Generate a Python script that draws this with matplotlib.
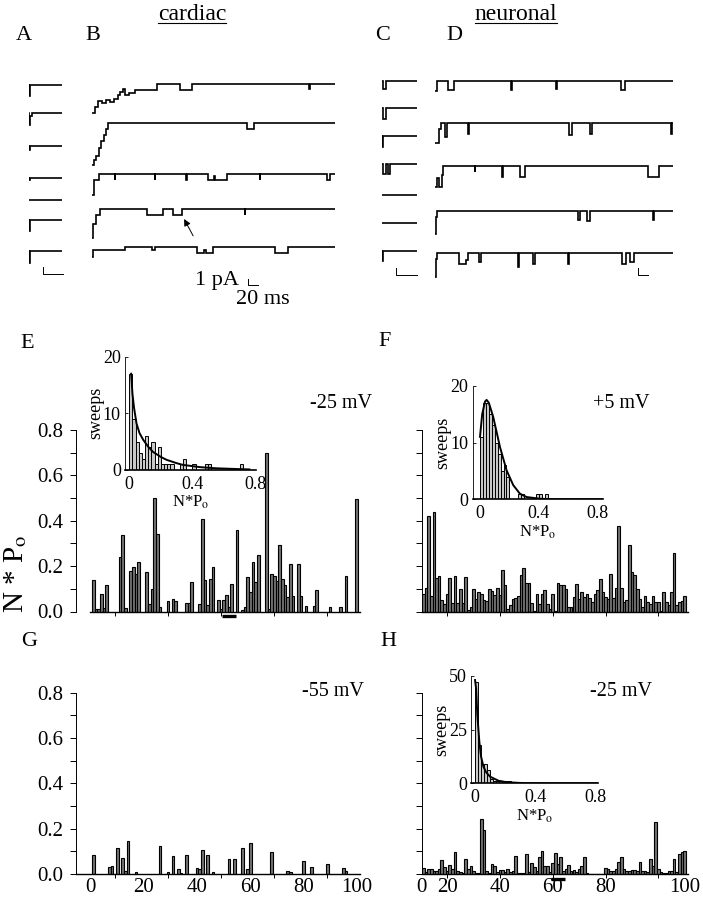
import matplotlib
matplotlib.use('Agg')
import matplotlib.pyplot as plt
from matplotlib.lines import Line2D
import numpy as np

plt.rcParams['font.family'] = ['Liberation Serif', 'DejaVu Serif']
plt.rcParams['mathtext.fontset'] = 'stix'

W, H = 703, 899

# ---------------- data ----------------
# N*Po per sweep (E and G: only non-empty sweeps listed)
e_sweeps = [1, 2, 3, 4, 5, 6, 11, 12, 13, 15, 16, 17, 18, 21, 22, 23, 24, 25, 26, 29, 31, 32,
            36, 37, 38, 41, 42, 43, 44, 45, 46, 48, 49, 50, 51, 52, 53, 55, 57, 58, 59, 60,
            61, 62, 63, 66, 67, 68, 69, 70, 71, 72, 73, 74, 75, 76, 78, 79, 81, 84, 85, 90,
            94, 96, 100]
e_npo = [0.14, 0.01, 0.01, 0.076, 0.015, 0.118, 0.24, 0.335, 0.015, 0.18, 0.195, 0.165, 0.22,
         0.175, 0.035, 0.10, 0.50, 0.34, 0.02, 0.047, 0.056, 0.045, 0.038, 0.036, 0.13, 0.034,
         0.407, 0.14, 0.03, 0.143, 0.196, 0.052, 0.012, 0.052, 0.072, 0.02, 0.122, 0.36, 0.007,
         0.022, 0.15, 0.087, 0.216, 0.128, 0.25, 0.70, 0.012, 0.165, 0.155, 0.135, 0.294, 0.144,
         0.118, 0.066, 0.209, 0.07, 0.209, 0.07, 0.026, 0.026, 0.096, 0.022, 0.022, 0.155, 0.495]

g_sweeps = [1, 7, 8, 10, 12, 13, 14, 17, 26, 29, 31, 33, 34, 36, 40, 41, 42, 44, 46, 52, 54,
            57, 59, 60, 68, 74, 75, 80, 83, 89, 95, 96]
g_npo = [0.085, 0.03, 0.034, 0.115, 0.07, 0.012, 0.147, 0.009, 0.122, 0.009, 0.08, 0.022,
         0.004, 0.085, 0.025, 0.022, 0.104, 0.084, 0.009, 0.066, 0.066, 0.116, 0.022, 0.137,
         0.095, 0.012, 0.009, 0.059, 0.029, 0.046, 0.028, 0.012]

f_npo = [0.075, 0.105, 0.42, 0.07, 0.44, 0.148, 0.158, 0.05, 0.034, 0.075,
         0.148, 0.037, 0.158, 0.037, 0.098, 0.037, 0.153, 0.005, 0.022, 0.10,
         0.056, 0.086, 0.075, 0.05, 0.046, 0.10, 0.09, 0.071, 0.105, 0.071,
         0.182, 0.116, 0.012, 0.027, 0.056, 0.06, 0.067, 0.163, 0.193, 0.126,
         0.126, 0.037, 0.004, 0.078, 0.031, 0.078, 0.093, 0.034, 0.012, 0.078,
         0.004, 0.127, 0.118, 0.116, 0.10, 0.019, 0.019, 0.064, 0.123, 0.056,
         0.086, 0.064, 0.078, 0.06, 0.041, 0.075, 0.096, 0.145, 0.086, 0.064,
         0.056, 0.167, 0.06, 0.105, 0.378, 0.105, 0.044, 0.052, 0.293, 0.175,
         0.163, 0.10, 0.056, 0.019, 0.067, 0.041, 0.034, 0.067, 0.041, 0.041,
         0.004, 0.086, 0.041, 0.027, 0.086, 0.256, 0.03, 0.041, 0.046, 0.067]

h_npo = [0.025, 0.007, 0.022, 0.022, 0.015, 0.012, 0.022, 0.062, 0.03, 0.012,
         0.04, 0.022, 0.096, 0.012, 0.007, 0.004, 0.067, 0.022, 0.037, 0.012,
         0.004, 0.003, 0.244, 0.193, 0.015, 0.003, 0.044, 0.034, 0.007, 0.019,
         0.019, 0.007, 0.022, 0.01, 0.012, 0.079, 0.004, 0.003, 0.003, 0.089,
         0.007, 0.047, 0.03, 0.015, 0.074, 0.10, 0.037, 0.037, 0.007, 0.049,
         0.092, 0.044, 0.077, 0.012, 0.022, 0.041, 0.015, 0.019, 0.007, 0.022,
         0.037, 0.074, 0.003, 0.0, 0.0, 0.0, 0.0, 0.0, 0.0, 0.025,
         0.022, 0.012, 0.015, 0.022, 0.055, 0.074, 0.022, 0.015, 0.015, 0.018,
         0.018, 0.015, 0.055, 0.012, 0.012, 0.007, 0.064, 0.037, 0.23, 0.022,
         0.01, 0.003, 0.003, 0.015, 0.012, 0.067, 0.007, 0.089, 0.096, 0.10]
fh_sweeps = list(range(1, 101))

shown_sweeps = (50, 54)   # sweeps displayed in B and D

# amplitude histograms (bins of 0.02 N*Po) and fitted curves
bin_w = 0.02
e_hist = [17, 9, 5, 3, 2, 6, 4, 5, 1, 4, 1, 1, 1, 1, 0, 0, 1, 2, 0, 0, 1, 0, 0, 0, 1, 1,
          0, 0, 0, 0, 0, 0, 0, 0, 0, 1]
f_hist = [11, 17, 17, 15, 13, 10, 8, 5, 6, 4, 0, 0, 0, 1, 1, 0, 0, 0, 0, 1, 1, 0, 1]
h_hist = [47, 18, 9, 9, 6, 2, 1, 1, 0, 1, 1, 1]

e_fit_x = [0.012, 0.02, 0.03, 0.046, 0.065, 0.089, 0.12, 0.15, 0.2, 0.236, 0.3, 0.34, 0.45,
           0.55, 0.65, 0.76]
e_fit_y = [17, 13.5, 11, 8.2, 6.5, 5.3, 4.1, 3.2, 2.3, 1.8, 1.2, 0.9, 0.5, 0.3, 0.2, 0.1]
f_fit_x = [0.0, 0.015, 0.034, 0.045, 0.06, 0.09, 0.136, 0.181, 0.226, 0.271, 0.317, 0.407,
           0.5, 0.83]
f_fit_y = [11, 15, 17.2, 17.5, 17, 14.5, 9.2, 5.1, 2.5, 1.0, 0.4, 0.1, 0.02, 0.0]
h_fit_x = [0.0, 0.007, 0.015, 0.029, 0.04, 0.056, 0.075, 0.1, 0.156, 0.211, 0.322, 0.5, 0.82]
h_fit_y = [48, 44, 32, 19, 12.5, 7.7, 5.0, 3.1, 1.2, 0.5, 0.1, 0.0, 0.0]

# single-channel sweeps: (time, current pA) breakpoints, level held until next point
a_traces = [[(0.3, -1.9), (1.3, 0)],
            [(0.3, -1.9), (1.3, -0.5), (2.5, 0)],
            [(0.3, -0.8), (1.3, 0)],
            [(0.3, -0.4), (1.3, 0)],
            [],
            [(0.3, -1.9), (1.3, 0)],
            [(0.3, -2.1), (1.3, 0)]]
b_traces = [[(0, -4.8), (2, -4.9), (6, -3.8), (12, -2.8), (20, -3.2), (28, -2.6), (36, -3.0),
             (44, -2.5), (52, -1.9), (57, -1.3), (62, -0.8), (66, -1.8), (75, -1.5),
             (87, -1.0), (130, 0), (177, -1.0), (200, 0), (435, -0.8), (437, 0)],
            [(0, -7.0), (4, -6.2), (9, -5.5), (14, -4.2), (19, -3.0), (24, -2.0), (29, -1.0),
             (33, 0), (310, -1.0), (325, 0)],
            [(0, -3.5), (4, -1.0), (15, 0), (46, -1), (47, 0), (126, -1), (127, 0), (189, -1),
             (190, 0), (233, -1), (245, -0.4), (247, -1), (270, 0), (336, -1), (337, 0),
             (470, -1), (477, 0)],
            [(0, -4.8), (3, -2.5), (8, -1.0), (17, 0), (110, -1), (143, 0), (163, -1),
             (180, 0), (306, -1), (307, 0)],
            [(0, -1.7), (3, -0.6), (67, 0), (120, -0.5), (127, 0), (210, -1), (225, -0.5),
             (228, -1), (243, 0), (367, -1), (393, 0)]]
c_traces = [[(1, -1.4), (4.3, 0)],
            [(1, -1.7), (4.3, 0)],
            [(0.5, -1.8), (1.5, 0)],
            [(1, -1.6), (4.3, 0), (6.7, -1.6), (8.3, 0)],
            [],
            [],
            [(0.5, -1.8), (1.5, 0)]]
d_traces = [[(0, -1.7), (4, 0), (27, -1.5), (39, 0), (153, -1.5), (155, 0), (243, -1.3),
             (245, 0), (373, -1.5), (380, 0)],
            [(0, -3.3), (8, -1.0), (13, 0), (20, -2.2), (25, 0), (67, -1.7), (69, 0),
             (269, -1.9), (274, 0), (310, -1.7), (315, 0), (473, -1.7), (475, 0)],
            [(0, -3.5), (5, -2.0), (8, -3.5), (14, -1.5), (17, 0), (80, -1.0), (81, 0),
             (135, -1.8), (137, 0), (170, -1.8), (180, 0), (427, -1.8), (449, 0)],
            [(0, -3.8), (2, -1.0), (4, 0), (287, -1.6), (290, 0), (305, -1.7), (310, 0),
             (437, -1.6), (439, 0)],
            [(0, -4.0), (2, -1.0), (4, 0), (49, -1.8), (62, -1.2), (67, 0), (89, -1.6),
             (93, 0), (167, -2.3), (169, 0), (197, -1.8), (200, 0), (267, -1.8), (269, 0),
             (375, -1.8), (383, 0), (391, -1.5), (398, 0)]]

# ---------------- layout helpers ----------------
fig = plt.figure(figsize=(W / 100, H / 100), dpi=100)


def px_axes(x0, y0, x1, y1):
    return fig.add_axes([x0 / W, 1 - y1 / H, (x1 - x0) / W, (y1 - y0) / H])


def ftext(x, y, s, **kw):
    kw.setdefault('ha', 'center')
    kw.setdefault('va', 'center')
    fig.text(x / W, 1 - y / H, s, **kw)


def draw_sweeps(ax, traces, offsets, t_end):
    for ev, off in zip(traces, offsets):
        pts = list(ev)
        if not pts or pts[0][0] > 0:
            pts = [(0, 0)] + pts
        t = [p[0] for p in pts] + [t_end]
        i = [p[1] for p in pts] + [pts[-1][1]]
        ax.plot(t, np.array(i) + off, color='black', lw=1.2, drawstyle='steps-post',
                solid_joinstyle='miter')


def scale_bar(ax, x0, y0, dx, dy):
    ax.plot([x0, x0, x0 + dx], [y0 + dy, y0, y0], color='black', lw=0.7, clip_on=False)


# ---------------- traces A-D ----------------
trace_ylim = (-38.33, 0)
a_off = [-4.17, -8.88, -14.28, -19.62, -23.33, -26.67, -31.78]
b_off = [-4.0, -10.45, -19.0, -24.88, -31.12]
c_off = [-3.45, -8.05, -12.62, -17.33, -22.5, -27.12, -31.78]
d_off = [-3.45, -10.55, -17.62, -25.12, -32.12]

ax_a = px_axes(29, 60, 62, 290)
ax_b = px_axes(91.7, 60, 335, 290)
ax_c = px_axes(381.7, 60, 416.7, 290)
ax_d = px_axes(435, 60, 673.3, 290)
for ax, tr, off, tend in [(ax_a, a_traces, a_off, 33), (ax_b, b_traces, b_off, 487),
                          (ax_c, c_traces, c_off, 35), (ax_d, d_traces, d_off, 477)]:
    draw_sweeps(ax, tr, off, tend)
    ax.set_xlim(0, tend)
    ax.set_ylim(*trace_ylim)
    ax.axis('off')

scale_bar(ax_a, 14.3, -35.72, 19.3, 1.27)
scale_bar(ax_b, 312.6, -37.5, 20, 1.0)
scale_bar(ax_c, 14.3, -35.83, 20.7, 1.1)
scale_bar(ax_d, 406.6, -35.83, 20, 1.1)
ax_b.annotate('', xy=(185, -26.5), xytext=(203, -29.3),
              arrowprops=dict(arrowstyle='-|>', color='black', lw=0.7,
                              mutation_scale=10, shrinkA=0, shrinkB=0))

# ---------------- N*Po bar panels ----------------
e_lim = ((76 - 90.7) / 2.66, (360 - 90.7) / 2.66)
fh_lim = ((421.7 - 420.7) / 2.64, (688 - 420.7) / 2.64)
yt = np.round(np.arange(0, 0.81, 0.1), 1)


def bar_panel(ax, sweeps, vals, xlim, ylabels):
    ax.bar(sweeps, vals, width=1.0, facecolor='0.45', edgecolor='black', linewidth=0.8)
    ax.set_xlim(*xlim)
    ax.set_ylim(0, 0.8)
    ax.set_facecolor('none')
    ax.xaxis.remove_overlapping_locs = False
    for s in ['top', 'right']:
        ax.spines[s].set_visible(False)
    ax.spines['left'].set_linewidth(0.7)
    ax.spines['bottom'].set_linewidth(1.0)
    ax.set_yticks(yt)
    if ylabels:
        ax.set_yticklabels([f'{v:.1f}' if i % 2 == 0 else '' for i, v in enumerate(yt)])
    else:
        ax.set_yticklabels([])
    ax.tick_params(axis='y', length=4, width=0.7, pad=5, labelsize=15)
    ax.tick_params(axis='x', which='major', length=3, width=0.7, labelbottom=False)
    ax.tick_params(axis='x', which='minor', length=0, pad=3, labelsize=15)


ax_e = px_axes(76, 430, 360, 611.5)
bar_panel(ax_e, e_sweeps, e_npo, e_lim, True)
ax_e.set_xticks([9, 29, 49, 69, 89])
ax_e.spines['bottom'].set_bounds(-0.3, e_lim[1])

ax_g = px_axes(76, 692.5, 360, 874)
bar_panel(ax_g, g_sweeps, g_npo, e_lim, True)
ax_g.set_xticks([9, 29, 49, 69, 89])
ax_g.set_xticks([0, 20, 40, 60, 80, 100], ['0', '20', '40', '60', '80', '100'], minor=True)

ax_f = px_axes(421.7, 430, 688, 611.5)
bar_panel(ax_f, fh_sweeps, f_npo, fh_lim, False)
ax_f.set_xticks([10, 30, 50, 70, 90])

ax_h = px_axes(421.7, 692.5, 688, 874)
bar_panel(ax_h, fh_sweeps, h_npo, fh_lim, False)
ax_h.set_xticks([10, 30, 50, 70, 90])
ax_h.set_xticks([0.4, 10, 30, 50, 70, 100], ['0', '20', '40', '60', '80', '100'], minor=True)

for ax in (ax_e, ax_h):
    ax.plot([shown_sweeps[0] - 0.5, shown_sweeps[1] + 0.5], [-0.02, -0.02], color='black',
            lw=2.4, solid_capstyle='butt', clip_on=False)

# ---------------- histogram insets ----------------


def inset(ax, counts, fx, fy, xlim, ymax, yticks):
    edges = np.arange(len(counts)) * bin_w
    ax.bar(edges, counts, width=bin_w, align='edge', facecolor='#c8c8c8',
           edgecolor='black', linewidth=0.7)
    ax.plot(fx, fy, color='black', lw=1.4)
    ax.set_xlim(*xlim)
    ax.set_ylim(0, ymax)
    ax.set_facecolor('none')
    for s in ['top', 'right']:
        ax.spines[s].set_visible(False)
    ax.spines['left'].set_linewidth(0.6)
    ax.spines['bottom'].set_linewidth(1.2)
    ax.set_yticks(yticks)
    ax.set_xticks([0, 0.4, 0.8], ['0', '0.4', '0.8'])
    ax.tick_params(axis='y', direction='in', length=2, width=0.6, pad=3, labelsize=13)
    ax.tick_params(axis='x', length=0, pad=4, labelsize=13)
    ax.set_ylabel('sweeps', fontsize=13, labelpad=-1)
    ax.set_xlabel(r'N*P$_\mathrm{o}$', fontsize=12, labelpad=1)


in_e = px_axes(125, 356.7, 255.7, 470)
inset(in_e, e_hist, e_fit_x, e_fit_y, (-0.027, 0.8), 20, [0, 10, 20])
in_f = px_axes(472.5, 385.7, 603, 499.3)
inset(in_f, f_hist, f_fit_x, f_fit_y, (-0.051, 0.837), 20, [0, 10, 20])
in_h = px_axes(471, 675.7, 598.3, 783.3)
inset(in_h, h_hist, h_fit_x, h_fit_y, (-0.027, 0.822), 50, [0, 25, 50])

# ---------------- text ----------------
for s, x, y in [('A', 24, 36), ('B', 93, 36), ('C', 383, 36), ('D', 454, 36),
                ('E', 27, 343), ('F', 385, 341), ('G', 29, 641), ('H', 388, 642)]:
    ftext(x, y, s, fontsize=16)

ftext(192, 14, 'cardiac', fontsize=17)
ftext(516, 14, 'neuronal', fontsize=17)
fig.add_artist(Line2D([158 / W, 226 / W], [1 - 22.7 / H] * 2, color='black', lw=0.8))
fig.add_artist(Line2D([475 / W, 557 / W], [1 - 22.5 / H] * 2, color='black', lw=0.8))

ftext(217, 281, '1 pA', fontsize=16)
ftext(263, 300, '20 ms', fontsize=16)

ftext(310, 403, '-25 mV', fontsize=14.5, ha='left')
ftext(593, 403, '+5 mV', fontsize=14.5, ha='left')
ftext(302, 692, '-55 mV', fontsize=14.5, ha='left')
ftext(590, 692, '-25 mV', fontsize=14.5, ha='left')

ftext(16, 574, r'N * P$_\mathrm{o}$', fontsize=21, rotation=90)

fig.savefig('out.png', dpi=100)
